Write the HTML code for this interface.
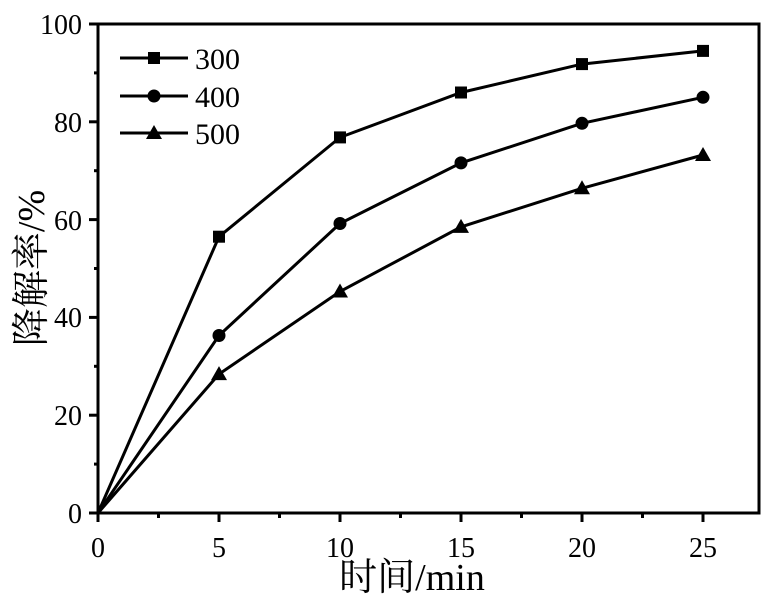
<!DOCTYPE html>
<html><head><meta charset="utf-8"><style>
body{margin:0;background:#fff}
svg text{font-family:"Liberation Serif","Noto Serif CJK SC",serif;fill:#000}
</style></head><body>
<svg width="766" height="597" viewBox="0 0 766 597" xmlns="http://www.w3.org/2000/svg">
<g stroke="#000" stroke-width="3" fill="none">
<rect x="98" y="24" width="661" height="489"/>
</g>
<g stroke="#000" stroke-width="3">
<line x1="98" y1="513" x2="98" y2="522"/><line x1="219" y1="513" x2="219" y2="522"/><line x1="340" y1="513" x2="340" y2="522"/><line x1="461" y1="513" x2="461" y2="522"/><line x1="582" y1="513" x2="582" y2="522"/><line x1="703" y1="513" x2="703" y2="522"/>
<line x1="158.5" y1="513" x2="158.5" y2="518"/><line x1="279.5" y1="513" x2="279.5" y2="518"/><line x1="400.5" y1="513" x2="400.5" y2="518"/><line x1="521.5" y1="513" x2="521.5" y2="518"/><line x1="642.5" y1="513" x2="642.5" y2="518"/>
<line x1="89" y1="513" x2="98" y2="513"/><line x1="89" y1="415.2" x2="98" y2="415.2"/><line x1="89" y1="317.4" x2="98" y2="317.4"/><line x1="89" y1="219.6" x2="98" y2="219.6"/><line x1="89" y1="121.8" x2="98" y2="121.8"/><line x1="89" y1="24" x2="98" y2="24"/>
<line x1="94" y1="464.1" x2="98" y2="464.1"/><line x1="94" y1="366.3" x2="98" y2="366.3"/><line x1="94" y1="268.5" x2="98" y2="268.5"/><line x1="94" y1="170.7" x2="98" y2="170.7"/><line x1="94" y1="72.9" x2="98" y2="72.9"/>
</g>
<g font-size="28" text-anchor="end">
<text x="82" y="523">0</text><text x="82" y="425">20</text><text x="82" y="327">40</text><text x="82" y="230">60</text><text x="82" y="132">80</text><text x="82" y="34">100</text>
</g>
<g font-size="28" text-anchor="middle">
<text x="98" y="557">0</text><text x="219" y="557">5</text><text x="340" y="557">10</text><text x="461" y="557">15</text><text x="582" y="557">20</text><text x="703" y="557">25</text>
</g>
<text x="412" y="590" font-size="38" text-anchor="middle">时间/min</text>
<text transform="translate(44,268) rotate(-90)" font-size="38" text-anchor="middle">降解率/%</text>
<g stroke="#000" stroke-width="3" fill="none">
<polyline points="98,513 219,236.7 340,137.4 461,92.5 582,64.1 703,50.9"/>
<polyline points="98,513 219,335.5 340,223.5 461,162.9 582,123.3 703,97.3"/>
<polyline points="98,513 219,374.1 340,291.5 461,226.9 582,188.3 703,155"/>
<line x1="120" y1="58" x2="188" y2="58"/><line x1="120" y1="96" x2="188" y2="96"/><line x1="120" y1="133" x2="188" y2="133"/>
</g>
<g fill="#000">
<rect x="213" y="230.7" width="12" height="12"/><rect x="334" y="131.4" width="12" height="12"/><rect x="455" y="86.5" width="12" height="12"/><rect x="576" y="58.1" width="12" height="12"/><rect x="697" y="44.9" width="12" height="12"/>
<circle cx="219" cy="335.5" r="6.5"/><circle cx="340" cy="223.5" r="6.5"/><circle cx="461" cy="162.9" r="6.5"/><circle cx="582" cy="123.3" r="6.5"/><circle cx="703" cy="97.3" r="6.5"/>
<polygon points="219,366.1 211,380.1 227,380.1"/><polygon points="340,283.5 332,297.5 348,297.5"/><polygon points="461,218.9 453,232.9 469,232.9"/><polygon points="582,180.3 574,194.3 590,194.3"/><polygon points="703,147 695,161 711,161"/>
<rect x="148" y="52" width="12" height="12"/>
<circle cx="154" cy="96" r="6.5"/>
<polygon points="154,125 146,139 162,139"/>
</g>
<g font-size="30">
<text x="195" y="69">300</text><text x="195" y="107">400</text><text x="195" y="144">500</text>
</g>
</svg>
</body></html>
